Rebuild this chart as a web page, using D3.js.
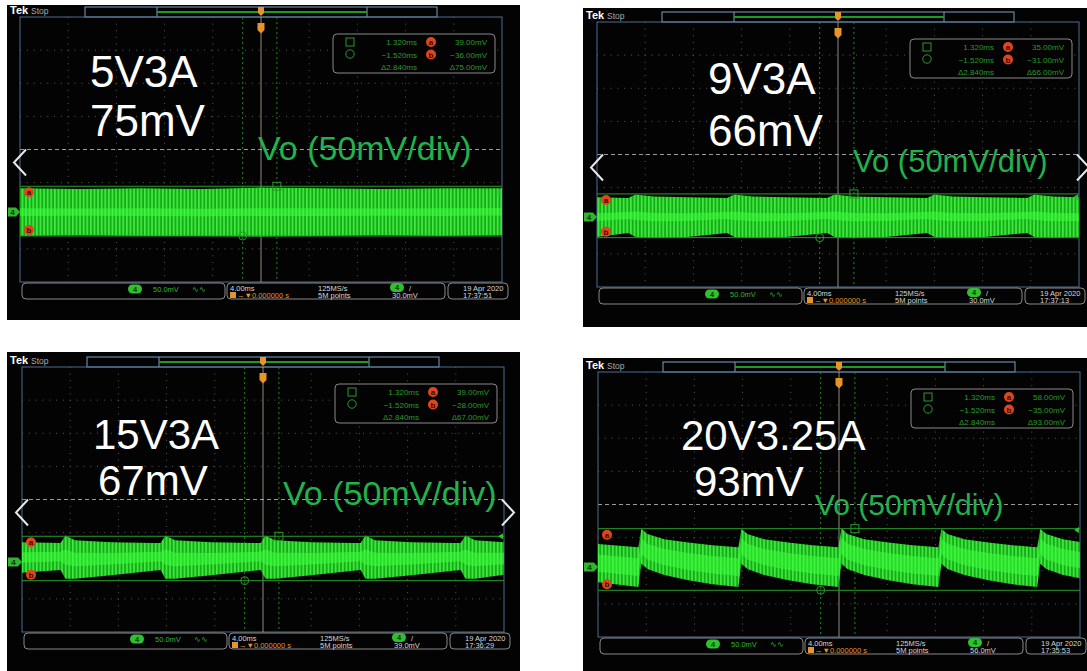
<!DOCTYPE html>
<html><head><meta charset="utf-8">
<script src="https://cdn.jsdelivr.net/npm/d3@7"></script>
<style>body{margin:0;background:#fff;} svg{display:block;font-family:"Liberation Sans",Arial,sans-serif;}</style>
</head><body>
<svg id="c" width="1087" height="671"></svg>
<script>
// ---------------- DATA ----------------
const panelTitles   = ["5V3A", "9V3A", "15V3A", "20V3.25A"];
const rippleLabels  = ["75mV", "66mV", "67mV", "93mV"];
const probeLabel    = "Vo (50mV/div)";
const cursorTime1   = 1.320;   // ms
const cursorTime2   = -1.520;  // ms
const cursorA       = [39.00, 35.00, 39.00, 58.00];   // mV
const cursorB       = [-36.00, -31.00, -28.00, -35.00];
const triggerLevels = [30.0, 30.0, 39.0, 56.0];        // mV
const timestamps    = ["17:37:51", "17:37:13", "17:36:29", "17:35:53"];
const dateLabel     = "19 Apr  2020";
const timebase      = "4.00ms";
const sampleRate    = "125MS/s";
const recordLength  = "5M points";
const vertScale     = "50.0mV";
const triggerPos    = "0.000000 s";

// waveform envelopes: time (ms), upper edge (mV), lower edge (mV)
const env1T = [-20, -15, -10, -5, 0, 5, 10, 15, 20];
const env1U = [36, 35, 36, 35, 37, 36, 35, 36, 36];
const env1L = [-36, -35, -36, -36, -37, -36, -35, -36, -35];

const env2T = [-20, -17.4, -16.8, -15.3, -12.5, -9.2, -8.6, -7.1, -4.3, -0.9, -0.3, 1.2, 4.0, 7.4, 8.0, 9.5, 12.2, 15.7, 16.3, 17.8, 20];
const env2U = [30, 29, 34, 31, 30, 29, 34, 31, 30, 29, 34, 31, 30, 29, 34, 31, 30, 29, 34, 31, 30];
const env2L = [-30, -24, -30, -31, -30, -24, -30, -31, -30, -24, -30, -31, -30, -24, -30, -31, -30, -24, -30, -31, -30];

const env3T = [-20, -16.8, -16.4, -15.6, -12.6, -9.1, -8.5, -8.1, -7.3, -4.3, -0.8, -0.2, 0.2, 1.0, 4.0, 7.5, 8.1, 8.5, 9.3, 12.3, 15.8, 16.4, 16.8, 17.6, 20];
const env3U = [30, 29, 40, 33, 30, 29, 29, 40, 33, 30, 29, 29, 40, 33, 30, 29, 29, 40, 33, 30, 29, 29, 40, 33, 30];
const env3L = [-16, -12, -25, -25, -20, -13, -12, -25, -25, -20, -13, -12, -25, -25, -20, -13, -12, -25, -25, -20, -13, -12, -25, -25, -19];

const env4T = [-20, -16.65, -16.4, -15.9, -14.5, -12.5, -10.5, -8.35, -8.1, -7.6, -6.2, -4.2, -2.2, -0.05, 0.2, 0.7, 2.1, 4.1, 6.1, 8.25, 8.5, 9.0, 10.4, 12.4, 14.4, 16.45, 16.7, 17.2, 18.6, 20];
const env4U = [35, 30, 58, 50, 42, 37, 33, 30, 58, 50, 42, 37, 33, 30, 59, 50, 42, 37, 33, 30, 58, 50, 42, 37, 33, 30, 58, 50, 42, 38];
const env4L = [-23, -30, 5, -3, -12, -20, -26, -30, 5, -3, -12, -20, -26, -30, 5, -3, -12, -20, -26, -30, 5, -3, -12, -20, -26, -30, 5, -3, -12, -17];

const envT = [env1T, env2T, env3T, env4T];
const envU = [env1U, env2U, env3U, env4U];
const envL = [env1L, env2L, env3L, env4L];

// ---------------- LAYOUT (positions / styles only) ----------------
const GW = 482, GH = 265;
const layout = [
  {bx:7,   by:5,   bw:513, bh:315, gx:20,  gy:17,  title:[90,87],   fs:44, lineGap:49, ripDx:0,  vo:[258,160], voSize:34, chevL:true,  chevR:false, core:0.16},
  {bx:583, by:8,   bw:504, bh:319, gx:597, gy:22,  title:[708,94],  fs:44, lineGap:52, ripDx:0,  vo:[853,172], voSize:31, chevL:true,  chevR:true,  core:0.2},
  {bx:7,   by:352, bw:513, bh:319, gx:22,  gy:367, title:[93,449],  fs:42, lineGap:46, ripDx:5,  vo:[283,505], voSize:34, chevL:true,  chevR:true,  core:0.35},
  {bx:583, by:358, bw:504, bh:313, gx:598, gy:372, title:[681,450], fs:42, lineGap:46, ripDx:13, vo:[815,515], voSize:30, chevL:false, chevR:false, core:0.45}
];

const svg = d3.select("#c");
const defs = svg.append("defs");
const pat = defs.append("pattern").attr("id","stripes").attr("patternUnits","userSpaceOnUse")
  .attr("width",3.6).attr("height",10);
pat.append("rect").attr("width",3.6).attr("height",10).attr("fill","#13ad15");
pat.append("rect").attr("width",1.7).attr("height",10).attr("fill","#42e842");

const GREEN = "#2a9a2a", TXT = "#d6d6d6", ORANGE = "#e8942a", RED = "#e0451e";

layout.forEach((L, i) => {
  const clipId = "clip" + i;
  defs.append("clipPath").attr("id", clipId).append("rect")
    .attr("x", L.bx).attr("y", L.by).attr("width", L.bw).attr("height", L.bh);
  const g = svg.append("g").attr("clip-path", `url(#${clipId})`);
  g.append("rect").attr("x", L.bx).attr("y", L.by).attr("width", L.bw).attr("height", L.bh).attr("fill", "#030303");

  const gx = L.gx, gy = L.gy;
  const x = d3.scaleLinear().domain([-20, 20]).range([gx, gx + GW]);
  const y = d3.scaleLinear().domain([-105.5, 294.5]).range([gy + GH, gy]);

  // Tek Stop
  g.append("text").attr("x", L.bx + 3).attr("y", gy - 3).attr("fill", "#fff").attr("font-weight", "bold")
    .attr("font-size", 11).text("Tek");
  g.append("text").attr("x", L.bx + 24).attr("y", gy - 3).attr("fill", "#aaa").attr("font-size", 8.5).text("Stop");

  // top record bar
  g.append("rect").attr("x", gx + 65).attr("y", gy - 10).attr("width", 352).attr("height", 10)
    .attr("fill", "none").attr("stroke", "#7d9fc4").attr("stroke-width", 1);
  [137, 347].forEach(d => g.append("line").attr("x1", gx + d).attr("x2", gx + d).attr("y1", gy - 10).attr("y2", gy)
    .attr("stroke", "#7d9fc4"));
  g.append("line").attr("x1", gx + 137).attr("x2", gx + 347).attr("y1", gy - 5).attr("y2", gy - 5)
    .attr("stroke", "#1f9a1f").attr("stroke-width", 2);

  // graticule
  const grid = g.append("g");
  for (let k = 1; k < 10; k++) {
    if (k === 5) continue;
    grid.append("line").attr("x1", gx + k * GW / 10).attr("x2", gx + k * GW / 10).attr("y1", gy).attr("y2", gy + GH)
      .attr("stroke", "#5a5a5a").attr("stroke-dasharray", "1,5.62");
  }
  for (let k = 1; k < 8; k++) {
    if (k === 4) continue;
    grid.append("line").attr("x1", gx).attr("x2", gx + GW).attr("y1", gy + k * GH / 8).attr("y2", gy + k * GH / 8)
      .attr("stroke", "#5a5a5a").attr("stroke-dasharray", "1,5.82");
  }
  grid.append("line").attr("x1", gx).attr("x2", gx + GW).attr("y1", gy + GH / 2).attr("y2", gy + GH / 2)
    .attr("stroke", "#9a9a9a").attr("stroke-dasharray", "4,3");
  grid.append("rect").attr("x", gx).attr("y", gy).attr("width", GW).attr("height", GH)
    .attr("fill", "none").attr("stroke", "#4f6f8f");

  // vertical cursors
  [cursorTime1, cursorTime2].forEach(t => g.append("line").attr("x1", x(t)).attr("x2", x(t)).attr("y1", gy).attr("y2", gy + GH)
    .attr("stroke", "#1f8a1f").attr("stroke-dasharray", "2,3"));
  // trigger position line
  g.append("line").attr("x1", x(0)).attr("x2", x(0)).attr("y1", gy).attr("y2", gy + GH)
    .attr("stroke", "#cfc6b0").attr("stroke-opacity", 0.7);

  // waveform
  const pts = envT[i].map((t, j) => ({t, u: envU[i][j], l: envL[i][j]}));
  const area = d3.area().x(d => x(d.t)).y0(d => y(d.l)).y1(d => y(d.u));
  g.append("path").datum(pts).attr("d", area).attr("fill", "url(#stripes)");
  const coreArea = d3.area().x(d => x(d.t))
    .y0(d => y((d.u + d.l) / 2 - (d.u - d.l) / 2 * L.core))
    .y1(d => y((d.u + d.l) / 2 + (d.u - d.l) / 2 * L.core));
  g.append("path").datum(pts).attr("d", coreArea).attr("fill", "#3cff3c").attr("fill-opacity", 0.55);

  // horizontal cursors
  [cursorA[i], cursorB[i]].forEach(v => g.append("line").attr("x1", gx).attr("x2", gx + GW).attr("y1", y(v)).attr("y2", y(v))
    .attr("stroke", GREEN).attr("stroke-width", 1));
  g.append("rect").attr("x", x(cursorTime1) - 4).attr("y", y(cursorA[i]) - 4).attr("width", 8).attr("height", 8)
    .attr("fill", "none").attr("stroke", GREEN);
  g.append("circle").attr("cx", x(cursorTime2)).attr("cy", y(cursorB[i])).attr("r", 4)
    .attr("fill", "none").attr("stroke", GREEN);
  [["a", y(cursorA[i]) + 6], ["b", y(cursorB[i]) - 6]].forEach(([s, cy]) => {
    g.append("circle").attr("cx", gx + 9).attr("cy", cy).attr("r", 5).attr("fill", RED);
    g.append("text").attr("x", gx + 9).attr("y", cy + 3).attr("text-anchor", "middle").attr("font-size", 8)
      .attr("font-weight", "bold").attr("fill", "#3a0a00").text(s);
  });
  g.append("path").attr("d", `M${gx + GW - 1},${y(triggerLevels[i]) - 3} L${gx + GW - 6},${y(triggerLevels[i])} L${gx + GW - 1},${y(triggerLevels[i]) + 3}Z`)
    .attr("fill", "#2fc02f");
  const gy0 = y(0);
  g.append("path").attr("d", `M${L.bx + 1},${gy0 - 4.5} L${gx - 4},${gy0 - 4.5} L${gx},${gy0} L${gx - 4},${gy0 + 4.5} L${L.bx + 1},${gy0 + 4.5}Z`)
    .attr("fill", "#2fb52f");
  g.append("text").attr("x", (L.bx + gx) / 2 - 1).attr("y", gy0 + 3).attr("text-anchor", "middle")
    .attr("font-size", 8).attr("font-weight", "bold").attr("fill", "#0a3a0a").text("4");

  // trigger markers (orange)
  const tx = x(0);
  g.append("path").attr("d", `M${tx - 3},${gy - 10} h6 v6 l-3,3 l-3,-3Z`).attr("fill", ORANGE);
  g.append("path").attr("d", `M${tx - 3.5},${gy + 6} h7 v7 l-3.5,3.5 l-3.5,-3.5Z`).attr("fill", ORANGE);

  // chevrons
  const cy = gy + GH / 2 + 13;
  if (L.chevL) g.append("path").attr("d", `M${gx + 6},${cy - 13} L${gx - 6},${cy} L${gx + 6},${cy + 13}`)
    .attr("fill", "none").attr("stroke", "#e8e8e8").attr("stroke-width", 2);
  if (L.chevR) g.append("path").attr("d", `M${gx + GW - 2},${cy - 13} L${gx + GW + 10},${cy} L${gx + GW - 2},${cy + 13}`)
    .attr("fill", "none").attr("stroke", "#e8e8e8").attr("stroke-width", 2);

  // cursor readout box
  const cb = g.append("g").attr("font-size", 8).attr("fill", GREEN);
  cb.append("rect").attr("x", gx + 313).attr("y", gy + 17).attr("width", 162).attr("height", 39).attr("rx", 4)
    .attr("fill", "#030303").attr("stroke", "#8a8a8a");
  cb.append("rect").attr("x", gx + 326).attr("y", gy + 21).attr("width", 8).attr("height", 8).attr("fill", "none").attr("stroke", GREEN);
  cb.append("circle").attr("cx", gx + 330).attr("cy", gy + 37).attr("r", 4.2).attr("fill", "none").attr("stroke", GREEN);
  const fmt = v => (v < 0 ? "\u2212" : "") + Math.abs(v).toFixed(2);
  const fmt3 = v => (v < 0 ? "\u2212" : "") + Math.abs(v).toFixed(3);
  const rows = [
    [fmt3(cursorTime1) + "ms", fmt(cursorA[i]) + "mV", "a"],
    [fmt3(cursorTime2) + "ms", fmt(cursorB[i]) + "mV", "b"],
    ["\u0394" + (cursorTime1 - cursorTime2).toFixed(3) + "ms", "\u0394" + (cursorA[i] - cursorB[i]).toFixed(2) + "mV", null]
  ];
  rows.forEach((r, k) => {
    const by = gy + 28 + k * 12.5;
    cb.append("text").attr("x", gx + 397).attr("y", by).attr("text-anchor", "end").text(r[0]);
    cb.append("text").attr("x", gx + 467).attr("y", by).attr("text-anchor", "end").text(r[1]);
    if (r[2]) {
      cb.append("circle").attr("cx", gx + 411).attr("cy", by - 3).attr("r", 5).attr("fill", RED);
      cb.append("text").attr("x", gx + 411).attr("y", by).attr("text-anchor", "middle").attr("font-weight", "bold")
        .attr("fill", "#3a0a00").text(r[2]);
    }
  });

  // status bar
  const sb = gy + GH + 1;
  const st = g.append("g").attr("font-size", 7.5);
  [[2, 203], [207, 218], [428, 60]].forEach(([o, w]) => st.append("rect").attr("x", gx + o).attr("y", sb).attr("width", w)
    .attr("height", 16).attr("rx", 4).attr("fill", "none").attr("stroke", "#8a8a8a"));
  const pill = (px, py) => {
    st.append("rect").attr("x", px).attr("y", py - 4.5).attr("width", 14).attr("height", 9).attr("rx", 4.5).attr("fill", "#2fc02f");
    st.append("text").attr("x", px + 7).attr("y", py + 2.8).attr("text-anchor", "middle").attr("font-weight", "bold")
      .attr("fill", "#0a3a0a").text("4");
  };
  pill(gx + 108, sb + 6);
  st.append("text").attr("x", gx + 133).attr("y", sb + 9).attr("fill", "#2fb52f").text(vertScale);
  st.append("text").attr("x", gx + 172).attr("y", sb + 9).attr("fill", "#2fb52f").text("\u223F\u223F");
  st.append("text").attr("x", gx + 210).attr("y", sb + 7.5).attr("fill", TXT).text(timebase);
  st.append("rect").attr("x", gx + 210).attr("y", sb + 9).attr("width", 6).attr("height", 6).attr("fill", ORANGE);
  st.append("text").attr("x", gx + 217).attr("y", sb + 14.5).attr("fill", ORANGE).text("\u2192\u25BC" + triggerPos);
  st.append("text").attr("x", gx + 298).attr("y", sb + 7.5).attr("fill", TXT).text(sampleRate);
  st.append("text").attr("x", gx + 298).attr("y", sb + 14.5).attr("fill", TXT).text(recordLength);
  pill(gx + 370, sb + 4.5);
  st.append("text").attr("x", gx + 389).attr("y", sb + 7.5).attr("fill", TXT).text("/");
  st.append("text").attr("x", gx + 372).attr("y", sb + 14.5).attr("fill", TXT).text(triggerLevels[i].toFixed(1) + "mV");
  st.append("text").attr("x", gx + 443).attr("y", sb + 7.5).attr("fill", TXT).text(dateLabel);
  st.append("text").attr("x", gx + 443).attr("y", sb + 14.5).attr("fill", TXT).text(timestamps[i]);

  // annotations
  g.append("text").attr("x", L.title[0]).attr("y", L.title[1]).attr("fill", "#fff").attr("font-size", L.fs).text(panelTitles[i]);
  g.append("text").attr("x", L.title[0] + L.ripDx).attr("y", L.title[1] + L.lineGap).attr("fill", "#fff")
    .attr("font-size", L.fs).text(rippleLabels[i]);
  g.append("text").attr("x", L.vo[0]).attr("y", L.vo[1]).attr("fill", "#22b14c").attr("font-size", L.voSize).text(probeLabel);
});
</script></body></html>
